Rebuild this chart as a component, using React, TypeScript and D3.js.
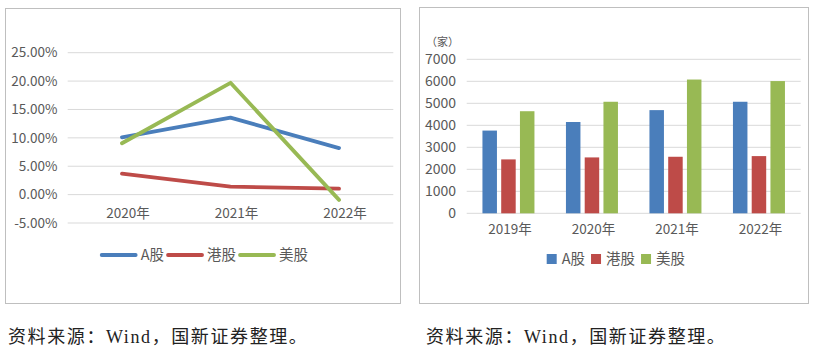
import React, { useRef, useEffect } from "react";
import * as d3 from "d3";

// left chart: growth rate
const lineYears = ["2020年", "2021年", "2022年"];
const lineTicks = [-5, 0, 5, 10, 15, 20, 25];
const aGrowth = [10.1, 13.55, 8.2];
const hkGrowth = [3.7, 1.4, 1.05];
const usGrowth = [9.05, 19.7, -0.93];

// right chart: number of listed companies
const barYears = ["2019年", "2020年", "2021年", "2022年"];
const barTicks = [0, 1000, 2000, 3000, 4000, 5000, 6000, 7000];
const aCount = [3760, 4150, 4690, 5070];
const hkCount = [2450, 2540, 2570, 2600];
const usCount = [4640, 5070, 6080, 6010];

const seriesNames = ["A股", "港股", "美股"];
const colors = ["#4a7ebb", "#be4b48", "#98b954"];
const source = "资料来源：Wind，国新证券整理。";

const FONT = "'Noto Sans CJK SC', 'Noto Sans', sans-serif";
const TXT = "#595959";
const GRID = "#d9d9d9";

export default function App() {
  const ref = useRef<SVGSVGElement>(null);

  useEffect(() => {
    const svg = d3.select(ref.current);
    svg.selectAll("*").remove();
    svg.append("rect").attr("width", 814).attr("height", 351).attr("fill", "#fff");

    // ---------- left: line chart ----------
    const L = svg.append("g");
    L.append("rect")
      .attr("x", 5.5).attr("y", 8.5).attr("width", 395).attr("height", 295)
      .attr("fill", "#fff").attr("stroke", "#bfbfbf");

    const ly = d3.scaleLinear().domain([-5, 25]).range([223, 52.7]);
    const lx = d3.scaleBand().domain(lineYears).range([67.7, 393.3]);
    const cx = (c: string) => (lx(c) as number) + lx.bandwidth() / 2;

    lineTicks.forEach(t => {
      L.append("line")
        .attr("x1", 67.7).attr("x2", 393.3)
        .attr("y1", ly(t)).attr("y2", ly(t))
        .attr("stroke", GRID);
      L.append("text")
        .attr("x", 57.5).attr("y", ly(t)).attr("dy", "0.35em")
        .attr("text-anchor", "end")
        .attr("font-family", FONT).attr("font-size", 13.5).attr("fill", TXT)
        .text(t.toFixed(2) + "%");
    });

    lineYears.forEach(c => {
      L.append("text")
        .attr("x", cx(c) + 6).attr("y", 217.5)
        .attr("text-anchor", "middle")
        .attr("font-family", FONT).attr("font-size", 13.5).attr("fill", TXT)
        .text(c);
    });

    const line = d3.line<number>()
      .x((d, i) => cx(lineYears[i]))
      .y(d => ly(d));
    [aGrowth, hkGrowth, usGrowth].forEach((s, i) => {
      L.append("path")
        .attr("d", line(s))
        .attr("fill", "none")
        .attr("stroke", colors[i])
        .attr("stroke-width", 3.8)
        .attr("stroke-linejoin", "round")
        .attr("stroke-linecap", "round");
    });

    let lgx = 101.7;
    seriesNames.forEach((n, i) => {
      L.append("line")
        .attr("x1", lgx).attr("x2", lgx + 34)
        .attr("y1", 255).attr("y2", 255)
        .attr("stroke", colors[i]).attr("stroke-width", 3.8)
        .attr("stroke-linecap", "round");
      const t = L.append("text")
        .attr("x", lgx + 39).attr("y", 255).attr("dy", "0.35em")
        .attr("font-family", FONT).attr("font-size", 14.5).attr("fill", TXT)
        .text(n);
      lgx += 39 + (t.node() as SVGTextElement).getComputedTextLength() + 4;
    });

    // ---------- right: bar chart ----------
    const R = svg.append("g");
    R.append("rect")
      .attr("x", 419.5).attr("y", 7.5).attr("width", 389).attr("height", 296)
      .attr("fill", "#fff").attr("stroke", "#bfbfbf");

    const ry = d3.scaleLinear().domain([0, 7000]).range([213.3, 59.3]);
    const rx = d3.scaleBand().domain(barYears).range([466.7, 800.7]);
    const rx1 = d3.scaleBand().domain(seriesNames).range([-26, 26]).paddingInner(0.227);

    barTicks.forEach(t => {
      R.append("line")
        .attr("x1", 466.7).attr("x2", 800.7)
        .attr("y1", ry(t)).attr("y2", ry(t))
        .attr("stroke", GRID);
      R.append("text")
        .attr("x", 456).attr("y", ry(t)).attr("dy", "0.35em")
        .attr("text-anchor", "end")
        .attr("font-family", FONT).attr("font-size", 14).attr("fill", TXT)
        .text(t);
    });
    R.append("text")
      .attr("x", 426).attr("y", 41.7).attr("dy", "0.35em")
      .attr("font-family", FONT).attr("font-size", 11).attr("fill", TXT)
      .text("（家）");

    [aCount, hkCount, usCount].forEach((s, i) => {
      R.selectAll(null)
        .data(s)
        .enter()
        .append("rect")
        .attr("x", (d, j) => (rx(barYears[j]) as number) + rx.bandwidth() / 2 + (rx1(seriesNames[i]) as number))
        .attr("y", d => ry(d))
        .attr("width", rx1.bandwidth())
        .attr("height", d => ry(0) - ry(d))
        .attr("fill", colors[i]);
    });

    barYears.forEach(c => {
      R.append("text")
        .attr("x", (rx(c) as number) + rx.bandwidth() / 2 + 1.5).attr("y", 229.3).attr("dy", "0.35em")
        .attr("text-anchor", "middle")
        .attr("font-family", FONT).attr("font-size", 13.5).attr("fill", TXT)
        .text(c);
    });

    let rgx = 546.7;
    seriesNames.forEach((n, i) => {
      R.append("rect")
        .attr("x", rgx).attr("y", 254).attr("width", 10).attr("height", 10)
        .attr("fill", colors[i]);
      const t = R.append("text")
        .attr("x", rgx + 15).attr("y", 259).attr("dy", "0.35em")
        .attr("font-family", FONT).attr("font-size", 14.5).attr("fill", TXT)
        .text(n);
      rgx += 15 + (t.node() as SVGTextElement).getComputedTextLength() + 6;
    });

    // ---------- sources ----------
    [8, 426].forEach(x => {
      svg.append("text")
        .attr("x", x).attr("y", 343)
        .attr("font-family", "'Liberation Serif', 'Noto Sans CJK SC', serif")
        .attr("font-size", 18).attr("letter-spacing", 1.6).attr("fill", "#222")
        .text(source);
    });
  }, []);

  return (
    <svg
      ref={ref}
      width={814}
      height={351}
      style={{ position: "fixed", left: 0, top: 0, display: "block" }}
    ></svg>
  );
}
